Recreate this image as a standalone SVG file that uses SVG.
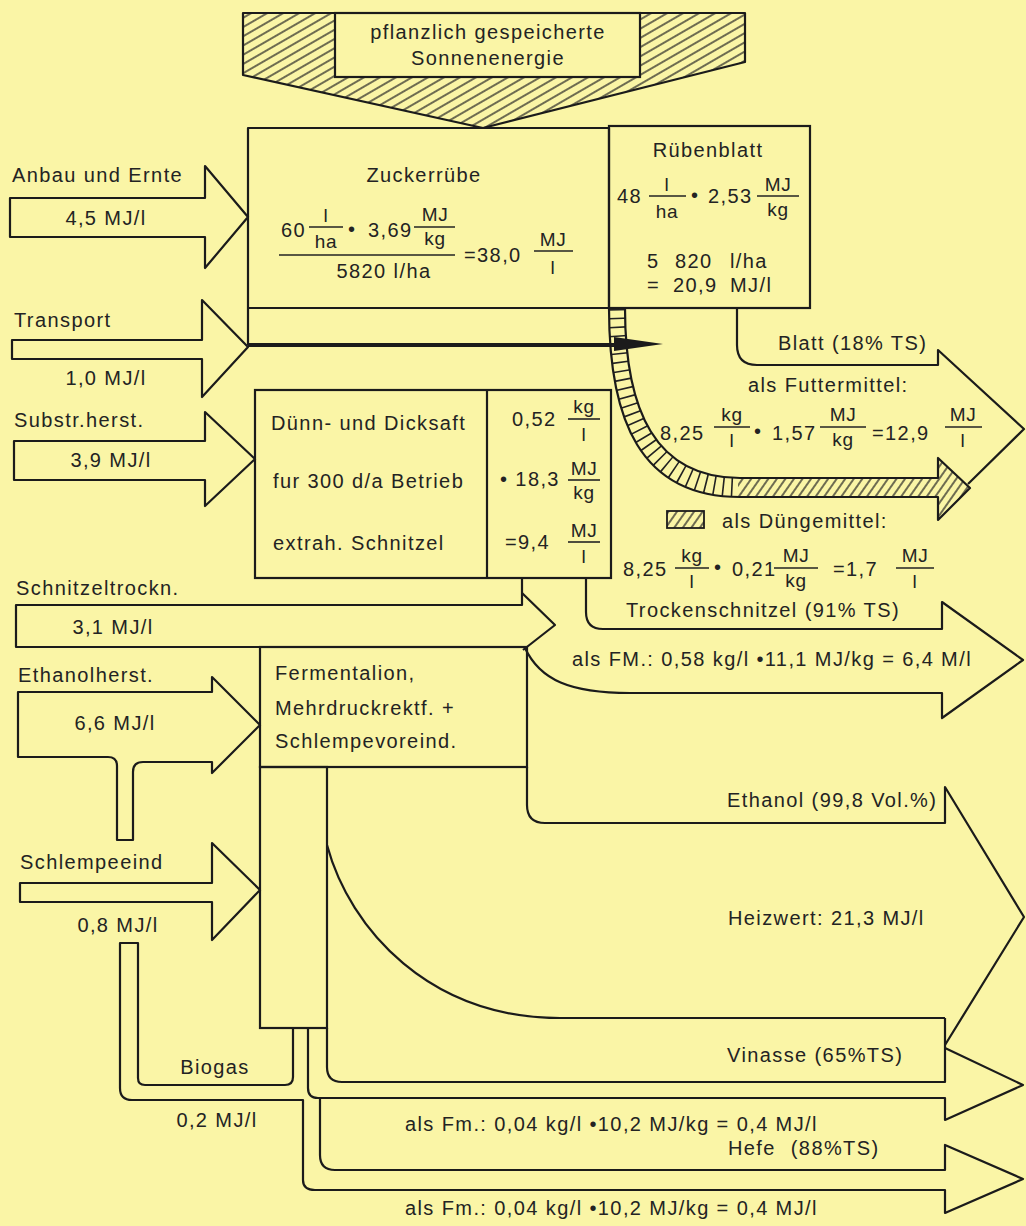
<svg xmlns="http://www.w3.org/2000/svg" width="1026" height="1226" viewBox="0 0 1026 1226">
<defs>
<style>
.ln{fill:none;stroke:#1b1b1b;stroke-width:2.2;stroke-linejoin:round}
.bx{fill:none;stroke:#1b1b1b;stroke-width:2.2}
.fr{stroke:#222;stroke-width:1.6}
text{font-family:"Liberation Sans",Arial,Helvetica,sans-serif;fill:#232323}
.t{font-size:20px;letter-spacing:1.4px}
.s{font-size:19px;letter-spacing:0.6px}
.m{text-anchor:middle}
</style>
<pattern id="hatchTop" patternUnits="userSpaceOnUse" width="8" height="8" patternTransform="rotate(60)"><line x1="1" y1="0" x2="1" y2="8" stroke="#222" stroke-width="1.3"/></pattern>
<pattern id="hatchBand" patternUnits="userSpaceOnUse" width="7" height="7" patternTransform="rotate(35)"><line x1="1" y1="0" x2="1" y2="7" stroke="#222" stroke-width="1.3"/></pattern>
<clipPath id="bandClip"><path d="M609,308 C609,420 640,497 740,497 H938 V520 L970,488 L938,458 V478 H740 C655,478 625,410 625,308 Z"/></clipPath>
</defs>
<rect x="0" y="0" width="1026" height="1226" fill="#FAF5A6"/>

<g id="sonnenenergie">
<polygon points="243,13 745,13 745,62 483,128 243,75" fill="url(#hatchTop)" stroke="#1b1b1b" stroke-width="2.2" stroke-linejoin="round"/>
<rect x="335" y="13" width="305" height="64" fill="#FAF5A6" stroke="#1b1b1b" stroke-width="2.2"/>
<text class="t m" x="488" y="39">pflanzlich gespeicherte</text>
<text class="t m" x="488" y="65">Sonnenenergie</text>
</g>

<g id="zuckerruebe">
<path class="ln" d="M248,345 V128 H609 V308 H248"/>
<text class="t m" x="424" y="182">Zuckerrübe</text>
<text class="t" x="281" y="237">60</text>
<text class="s m" x="326" y="222">l</text>
<line class="fr" x1="309" y1="227" x2="343" y2="227"/>
<text class="s m" x="326" y="248">ha</text>
<text class="t" x="348" y="236">•</text>
<text class="t" x="368" y="237">3,69</text>
<text class="s m" x="435" y="221">MJ</text>
<line class="fr" x1="414" y1="227" x2="455" y2="227"/>
<text class="s m" x="435" y="245">kg</text>
<line class="fr" x1="279" y1="255" x2="455" y2="255"/>
<text class="t m" x="384" y="278">5820 l/ha</text>
<text class="t" x="464" y="262">=38,0</text>
<text class="s m" x="553" y="246">MJ</text>
<line class="fr" x1="534" y1="251" x2="573" y2="251"/>
<text class="s m" x="553" y="274">l</text>
</g>

<g id="ruebenblatt">
<rect class="bx" x="609" y="126" width="201" height="182"/>
<text class="t m" x="708" y="157">Rübenblatt</text>
<text class="t" x="617" y="203">48</text>
<text class="s m" x="667" y="191">l</text>
<line class="fr" x1="649" y1="196" x2="686" y2="196"/>
<text class="s m" x="667" y="218">ha</text>
<text class="t" x="691" y="202">•</text>
<text class="t" x="708" y="203">2,53</text>
<text class="s m" x="778" y="191">MJ</text>
<line class="fr" x1="757" y1="196" x2="799" y2="196"/>
<text class="s m" x="778" y="216">kg</text>
<text class="t" x="647" y="268">5 <tspan x="675">820</tspan> <tspan x="730">l/ha</tspan></text>
<text class="t" x="647" y="292">= <tspan x="673">20,9</tspan> <tspan x="730">MJ/l</tspan></text>
</g>

<g id="duennsaft">
<rect class="bx" x="255" y="390" width="356" height="188"/>
<line class="ln" x1="487" y1="390" x2="487" y2="578"/>
<text class="t" x="271" y="430">Dünn- und Dicksaft</text>
<text class="t" x="273" y="488">fur 300 d/a Betrieb</text>
<text class="t" x="273" y="550">extrah. Schnitzel</text>
<text class="t" x="512" y="426">0,52</text>
<text class="s m" x="584" y="413">kg</text>
<line class="fr" x1="568" y1="419" x2="600" y2="419"/>
<text class="s m" x="584" y="441">l</text>
<text class="t" x="500" y="486">• 18,3</text>
<text class="s m" x="584" y="475">MJ</text>
<line class="fr" x1="568" y1="480" x2="600" y2="480"/>
<text class="s m" x="584" y="499">kg</text>
<text class="t" x="505" y="549">=9,4</text>
<text class="s m" x="584" y="537">MJ</text>
<line class="fr" x1="568" y1="542" x2="600" y2="542"/>
<text class="s m" x="584" y="563">l</text>
</g>

<g id="fermentation">
<rect class="bx" x="260" y="647" width="267" height="120"/>
<text class="t" x="275" y="680">Fermentalion,</text>
<text class="t" x="275" y="715">Mehrdruckrektf. +</text>
<text class="t" x="275" y="748">Schlempevoreind.</text>
</g>

<g id="schlempe">
<rect class="bx" x="260" y="767" width="67" height="261"/>
</g>

<g id="connectors">
<!-- inputs -->
<polygon class="ln" points="10,198 205,198 205,166 248,217 205,268 205,237 10,237"/>
<text class="t" x="12" y="182">Anbau und Ernte</text>
<text class="t m" x="106" y="225">4,5 MJ/l</text>

<polygon class="ln" points="12,340 202,340 202,300 248,347 202,397 202,359 12,359"/>
<text class="t" x="14" y="327">Transport</text>
<text class="t m" x="106" y="385">1,0 MJ/l</text>

<polygon class="ln" points="14,441 205,441 205,412 255,459 205,506 205,480 14,480"/>
<text class="t" x="14" y="427">Substr.herst.</text>
<text class="t m" x="111" y="467">3,9 MJ/l</text>

<path class="ln" d="M522,578 V605 H16 V647 H523"/>
<path class="ln" d="M522,593 L555,625 L523,650"/>
<text class="t" x="16" y="595">Schnitzeltrockn.</text>
<text class="t m" x="113" y="634">3,1 MJ/l</text>

<path class="ln" d="M18,692 H212 V677 L260,725 L212,773 V762 H143 Q133,762 133,772 V840 H117 V766 Q117,757 108,757 H18 Z"/>
<text class="t" x="18" y="682">Ethanolherst.</text>
<text class="t m" x="115" y="730">6,6 MJ/l</text>

<polygon class="ln" points="20,883 212,883 212,843 260,890 212,940 212,902 20,902"/>
<text class="t" x="20" y="869">Schlempeeind</text>
<text class="t m" x="118" y="932">0,8 MJ/l</text>

<!-- transport band to processing -->
<line x1="248" y1="345" x2="614" y2="345" stroke="#1b1b1b" stroke-width="4"/>

<!-- hatched fertiliser band -->
<g clip-path="url(#bandClip)">
<path d="M617,300 C617,415 648,487.5 740,487.5" fill="none" stroke="#222" stroke-width="26" stroke-dasharray="1.6 7.2"/>
<rect x="738" y="440" width="240" height="90" fill="url(#hatchBand)"/>
</g>
<path class="ln" d="M609,308 C609,420 640,497 740,497 H938 V520 L970,488 L938,458 V478 H740 C655,478 625,410 625,308"/>
<polygon points="614,337 663,344 614,351" fill="#1b1b1b"/>

<!-- Blatt arrow -->
<path class="ln" d="M737,308 V345 Q737,365 757,365 H938 V350 L1024,429 L968,484"/>
<text class="t" x="778" y="350">Blatt (18% TS)</text>
<text class="t" x="748" y="392">als Futtermittel:</text>
<text class="t" x="660" y="440">8,25</text>
<text class="s m" x="732" y="421">kg</text>
<line class="fr" x1="714" y1="427" x2="750" y2="427"/>
<text class="s m" x="732" y="447">l</text>
<text class="t" x="754" y="438">•</text>
<text class="t" x="772" y="440">1,57</text>
<text class="s m" x="843" y="421">MJ</text>
<line class="fr" x1="820" y1="427" x2="866" y2="427"/>
<text class="s m" x="843" y="446">kg</text>
<text class="t" x="872" y="440">=12,9</text>
<text class="s m" x="963" y="421">MJ</text>
<line class="fr" x1="945" y1="427" x2="982" y2="427"/>
<text class="s m" x="963" y="447">l</text>

<rect x="667" y="511" width="37" height="17" fill="url(#hatchBand)" stroke="#1b1b1b" stroke-width="1.8"/>
<text class="t" x="722" y="528">als Düngemittel:</text>
<text class="t" x="623" y="576">8,25</text>
<text class="s m" x="692" y="562">kg</text>
<line class="fr" x1="675" y1="568" x2="709" y2="568"/>
<text class="s m" x="692" y="588">l</text>
<text class="t" x="714" y="574">•</text>
<text class="t" x="732" y="576">0,21</text>
<text class="s m" x="796" y="562">MJ</text>
<line class="fr" x1="774" y1="568" x2="818" y2="568"/>
<text class="s m" x="796" y="587">kg</text>
<text class="t" x="833" y="576">=1,7</text>
<text class="s m" x="915" y="562">MJ</text>
<line class="fr" x1="896" y1="568" x2="934" y2="568"/>
<text class="s m" x="915" y="588">l</text>

<!-- dried chips -->
<path class="ln" d="M586,578 V612 Q586,629 603,629 H942 V602 L1023,660 L942,718 V693 H630 C570,693 540,680 525,648"/>
<text class="t" x="626" y="617">Trockenschnitzel (91% TS)</text>
<text class="t" x="572" y="666">als FM.: 0,58 kg/l •11,1 MJ/kg = 6,4 M/l</text>

<!-- ethanol -->
<path class="ln" d="M527,767 V805 Q527,823 545,823 H945 V787 L1024,917 L945,1045"/>
<path class="ln" d="M327,845 C350,930 430,1018 560,1018 H945"/>
<text class="t" x="727" y="807">Ethanol (99,8 Vol.%)</text>
<text class="t" x="728" y="925">Heizwert: 21,3 MJ/l</text>

<!-- vinasse -->
<path class="ln" d="M327,1028 V1067 Q327,1082 342,1082 H945 V1018"/>
<path class="ln" d="M308,1028 V1088 Q308,1098 318,1098 H945 V1120 L1023,1085 L945,1048"/>
<text class="t" x="727" y="1062">Vinasse (65%TS)</text>
<text class="t" x="405" y="1131">als Fm.: 0,04 kg/l •10,2 MJ/kg = 0,4 MJ/l</text>

<!-- biogas and hefe -->
<path class="ln" d="M293,1028 V1077 Q293,1085 285,1085 H145 Q138,1085 138,1078 V943 H120 V1088 Q120,1100 132,1100 H303 V1180 Q303,1190 315,1190 H945 V1213 L1023,1179 L945,1145 V1170 H335 Q320,1170 320,1155 V1098"/>
<text class="t m" x="215" y="1074">Biogas</text>
<text class="t m" x="217" y="1127">0,2 MJ/l</text>
<text class="t" x="728" y="1155">Hefe <tspan dx="8">(88%TS)</tspan></text>
<text class="t" x="405" y="1215">als Fm.: 0,04 kg/l •10,2 MJ/kg = 0,4 MJ/l</text>
</g>
</svg>
